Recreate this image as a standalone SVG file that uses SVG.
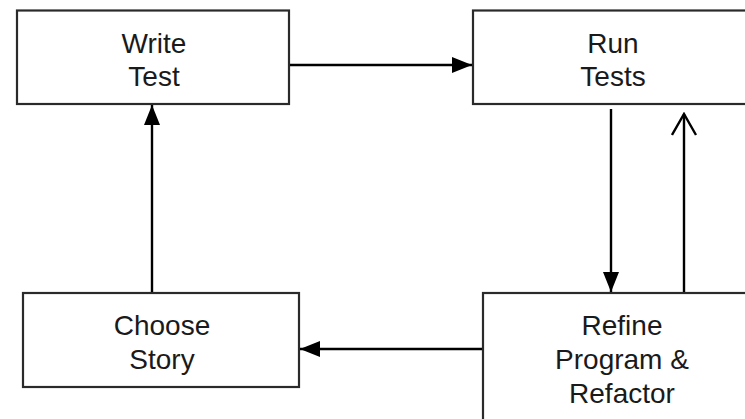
<svg xmlns="http://www.w3.org/2000/svg" width="745" height="419" viewBox="0 0 745 419">
<style>
.box{fill:#fff;stroke:#2a2a2a;stroke-width:2.2}
.lbl{font-family:"Liberation Sans",Arial,sans-serif;font-size:28px;fill:#1a1a1a;text-anchor:middle}
.ln{stroke:#000;stroke-width:2.4;fill:none}
</style>
<defs>
<marker id="fa" markerWidth="20" markerHeight="18" refX="20" refY="9" orient="auto" markerUnits="userSpaceOnUse">
<path d="M0,1 L20,9 L0,17 Z" fill="#000"/>
</marker>
<marker id="oa" markerWidth="24" markerHeight="28" refX="22" refY="13" orient="auto" markerUnits="userSpaceOnUse">
<path d="M1,1 L22,13 L1,25" fill="none" stroke="#000" stroke-width="2.4"/>
</marker>
</defs>
<g id="write-test">
<rect class="box" x="17" y="10.5" width="272" height="93.5"/>
<text class="lbl" x="154" y="53">Write</text>
<text class="lbl" x="154" y="86">Test</text>
</g>
<g id="run-tests">
<rect class="box" x="473" y="10.5" width="282" height="93.5"/>
<text class="lbl" x="613" y="53">Run</text>
<text class="lbl" x="613" y="86">Tests</text>
</g>
<g id="choose-story">
<rect class="box" x="23" y="293" width="276" height="94"/>
<text class="lbl" x="162" y="335">Choose</text>
<text class="lbl" x="162" y="369">Story</text>
</g>
<g id="refine">
<rect class="box" x="483" y="293" width="280" height="140"/>
<text class="lbl" x="622" y="335">Refine</text>
<text class="lbl" x="622" y="369">Program &amp;</text>
<text class="lbl" x="622" y="403">Refactor</text>
</g>
<g id="connectors">
<line class="ln" x1="290" y1="65" x2="472" y2="65" marker-end="url(#fa)"/>
<line class="ln" x1="611" y1="109" x2="611" y2="292" marker-end="url(#fa)"/>
<line class="ln" x1="684" y1="292" x2="684" y2="114" marker-end="url(#oa)"/>
<line class="ln" x1="482" y1="349" x2="300" y2="349" marker-end="url(#fa)"/>
<line class="ln" x1="152" y1="292" x2="152" y2="105" marker-end="url(#fa)"/>
</g>
</svg>
